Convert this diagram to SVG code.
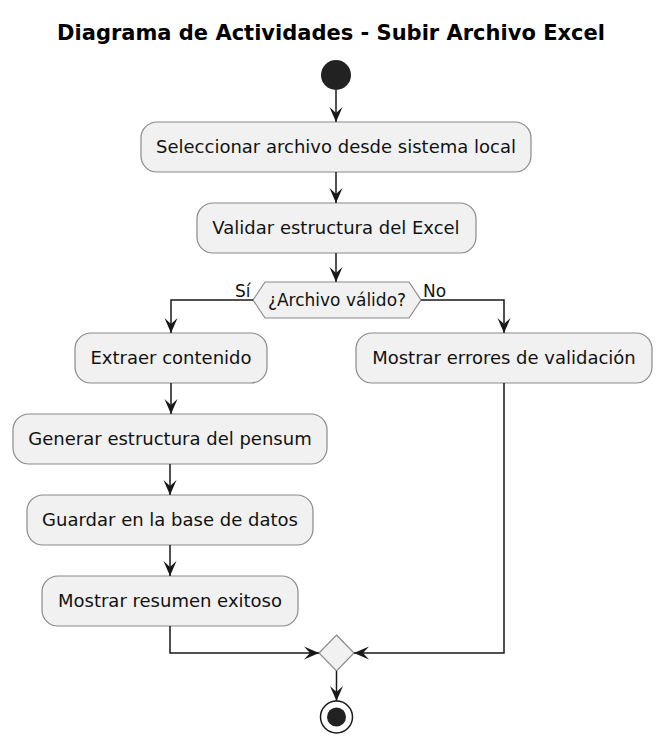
<svg xmlns="http://www.w3.org/2000/svg" width="671" height="746" viewBox="0 0 671 746">
<style>
.t{font-family:"DejaVu Sans",sans-serif;font-size:18px;fill:#111;text-anchor:middle}
.s{font-family:"DejaVu Sans",sans-serif;font-size:17px;fill:#111}
.title{font-family:"DejaVu Sans",sans-serif;font-size:21px;font-weight:bold;fill:#000;text-anchor:middle}
.box{fill:#F1F1F1;stroke:#8a8a8a;stroke-width:1.2}
.ln{fill:none;stroke:#181818;stroke-width:1.5}
</style>
<defs>
<marker id="ah" viewBox="-16 -8 18 16" refX="0" refY="0" markerWidth="18" markerHeight="16" markerUnits="userSpaceOnUse" orient="auto">
<path d="M0,0 L-15,-6.5 L-9,0 L-15,6.5 Z" fill="#181818"/>
</marker>
</defs>
<rect width="671" height="746" fill="#fff"/>
<text class="title" x="331" y="40">Diagrama de Actividades - Subir Archivo Excel</text>
<g id="start"><circle cx="336" cy="75" r="15" fill="#222"/></g>
<g id="n1"><rect class="box" x="141" y="122" width="390" height="50" rx="16"/><text class="t" x="336" y="153">Seleccionar archivo desde sistema local</text></g>
<g id="n2"><rect class="box" x="197" y="203" width="279" height="50" rx="16"/><text class="t" x="336" y="234">Validar estructura del Excel</text></g>
<g id="d1"><polygon class="box" points="253,300 265,282 409,282 421,300 409,318 265,318"/><text class="s" x="337" y="306" text-anchor="middle">¿Archivo válido?</text></g>
<g id="n3"><rect class="box" x="75" y="333" width="192" height="50" rx="16"/><text class="t" x="171" y="364">Extraer contenido</text></g>
<g id="n7"><rect class="box" x="356" y="333" width="296" height="50" rx="16"/><text class="t" x="504" y="364">Mostrar errores de validación</text></g>
<g id="n4"><rect class="box" x="13" y="414" width="314" height="50" rx="16"/><text class="t" x="170" y="445">Generar estructura del pensum</text></g>
<g id="n5"><rect class="box" x="27" y="495" width="286" height="50" rx="16"/><text class="t" x="170" y="526">Guardar en la base de datos</text></g>
<g id="n6"><rect class="box" x="42" y="576" width="256" height="50" rx="16"/><text class="t" x="170" y="607">Mostrar resumen exitoso</text></g>
<g id="merge"><polygon class="box" points="336.5,635 354,653 336.5,671 319,653"/></g>
<g id="end"><circle cx="336.5" cy="717" r="16" fill="#fff" stroke="#181818" stroke-width="1.5"/><circle cx="336.5" cy="717" r="9.5" fill="#222"/></g>
<g id="connectors">
<line class="ln" x1="336" y1="90" x2="336" y2="122" marker-end="url(#ah)"/>
<line class="ln" x1="336" y1="172" x2="336" y2="203" marker-end="url(#ah)"/>
<line class="ln" x1="336" y1="253" x2="336" y2="282" marker-end="url(#ah)"/>
<polyline class="ln" points="253,300 171,300 171,333" marker-end="url(#ah)"/>
<polyline class="ln" points="421,300 504,300 504,333" marker-end="url(#ah)"/>
<line class="ln" x1="171" y1="383" x2="171" y2="414" marker-end="url(#ah)"/>
<line class="ln" x1="170" y1="464" x2="170" y2="495" marker-end="url(#ah)"/>
<line class="ln" x1="170" y1="545" x2="170" y2="576" marker-end="url(#ah)"/>
<polyline class="ln" points="170,626 170,653 319,653" marker-end="url(#ah)"/>
<polyline class="ln" points="504,383 504,653 354,653" marker-end="url(#ah)"/>
<line class="ln" x1="336.5" y1="671" x2="336.5" y2="701" marker-end="url(#ah)"/>
<text class="s" x="235" y="297">Sí</text>
<text class="s" x="423" y="297">No</text>
</g>
</svg>
